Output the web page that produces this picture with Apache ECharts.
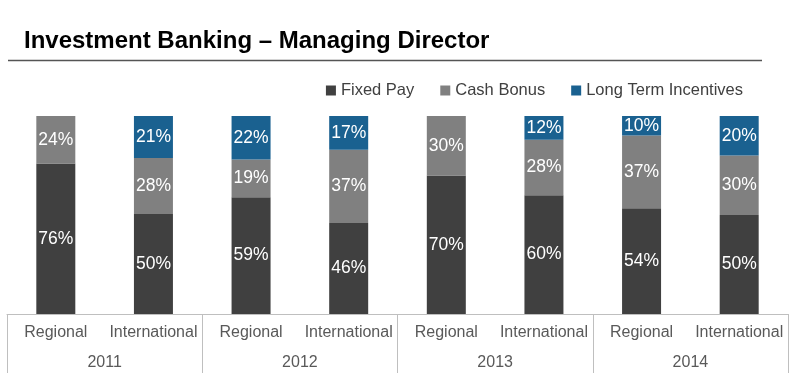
<!DOCTYPE html>
<html>
<head>
<meta charset="utf-8">
<script src="https://cdn.jsdelivr.net/npm/echarts@6/dist/echarts.min.js"></script>
<style>
html,body{margin:0;padding:0;background:#fff;}
#chart{width:800px;height:390px;}
</style>
</head>
<body>
<div id="chart"></div>
<script>
var categories = ['Regional','International','Regional','International','Regional','International','Regional','International'];
var years = ['2011','2012','2013','2014'];
var fixedPay = [76, 50, 59, 46, 70, 60, 54, 50];
var cashBonus = [24, 28, 19, 37, 30, 28, 37, 30];
var longTerm = [0, 21, 22, 17, 0, 12, 10, 20];
var seriesNames = ['Fixed Pay','Cash Bonus','Long Term Incentives'];
var colors = ['#404040','#808080','#1a6190'];

var raw = [fixedPay, cashBonus, longTerm];
var totals = categories.map(function(_, i){ return fixedPay[i] + cashBonus[i] + longTerm[i]; });

var font = '"Liberation Sans", Arial, sans-serif';

var series = raw.map(function(arr, k){
  return {
    name: seriesNames[k],
    type: 'bar',
    stack: 'total',
    barWidth: 39,
    itemStyle: {color: colors[k]},
    data: arr.map(function(v, i){ return {value: v === 0 ? null : v / totals[i] * 100, raw: v}; }),
    label: {
      show: true,
      position: 'inside',
      color: '#fff',
      fontSize: 17.5,
      fontFamily: font,
      formatter: function(p){ return p.data.raw + '%'; }
    }
  };
});

var chart = echarts.init(document.getElementById('chart'));
chart.setOption({
  animation: false,
  title: {
    text: 'Investment Banking \u2013 Managing Director',
    left: 19, top: 24,
    textStyle: {fontSize: 24, fontWeight: 'bold', color: '#000', fontFamily: font}
  },
  graphic: [{
    type: 'line',
    shape: {x1: 8, y1: 60.5, x2: 762, y2: 60.5},
    style: {stroke: '#555', lineWidth: 1.5}
  }],
  legend: {
    right: 52, top: 77,
    itemWidth: 10, itemHeight: 10, itemGap: 26,
    icon: 'rect',
    textStyle: {fontSize: 16.5, color: '#404040', fontFamily: font},
    data: seriesNames
  },
  grid: {left: 7, right: 12, top: 116, bottom: 76},
  xAxis: [{
    type: 'category',
    data: categories,
    position: 'bottom',
    axisLine: {show: true, lineStyle: {color: '#bfbfbf', width: 1}},
    axisTick: {show: false},
    axisLabel: {margin: 11, fontSize: 16, color: '#595959', fontFamily: font, interval: 0}
  }, {
    type: 'category',
    data: years,
    position: 'bottom',
    axisLine: {show: false},
    axisTick: {show: true, length: 59, lineStyle: {color: '#bfbfbf'}},
    axisLabel: {margin: 41, fontSize: 16, color: '#595959', fontFamily: font}
  }],
  yAxis: {type: 'value', min: 0, max: 100, show: false},
  series: series
});
</script>
</body>
</html>
